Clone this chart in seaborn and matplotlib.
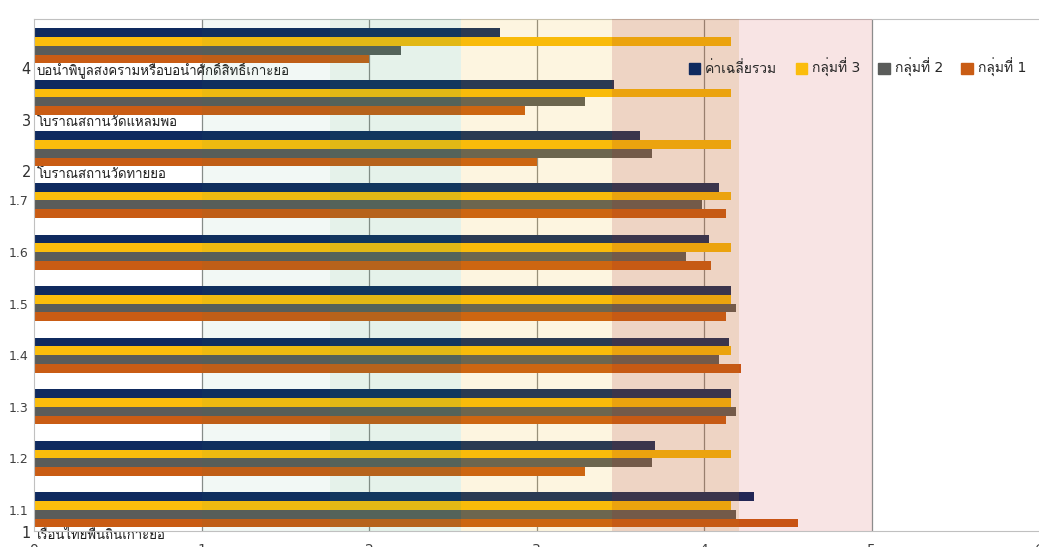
import matplotlib
matplotlib.use("Agg")
import pandas as pd
import matplotlib.pyplot as plt
import seaborn as sns
from matplotlib import font_manager
from matplotlib.ft2font import FT2Font
from matplotlib.patches import Patch
from matplotlib.transforms import blended_transform_factory

# data (top group first)
groups = ["4", "3", "2", "1.7", "1.6", "1.5", "1.4", "1.3", "1.2", "1.1"]
series = ["ค่าเฉลี่ยรวม", "กลุ่มที่ 3", "กลุ่มที่ 2", "กลุ่มที่ 1"]
overall = [2.78, 3.46, 3.62, 4.09, 4.03, 4.16, 4.15, 4.16, 3.71, 4.30]
group3 = [4.16, 4.16, 4.16, 4.16, 4.16, 4.16, 4.16, 4.16, 4.16, 4.16]
group2 = [2.19, 3.29, 3.69, 3.99, 3.89, 4.19, 4.09, 4.19, 3.69, 4.19]
group1 = [2.00, 2.93, 3.00, 4.13, 4.04, 4.13, 4.22, 4.13, 3.29, 4.56]

# heading rows: number, name, group they sit under
heading_nums = ["4", "3", "2", "1"]
heading_names = ["บ่อน้ำพิบูลสงครามหรือบ่อน้ำศักดิ์สิทธิ์เกาะยอ",
                 "โบราณสถานวัดแหลมพ้อ",
                 "โบราณสถานวัดท้ายยอ",
                 "เรือนไทยพื้นถิ่นเกาะยอ"]
heading_after = ["4", "3", "2", "1.1"]

x_ticks = [0, 1, 2, 3, 4, 5, 6]

COLORS = ["#0f2a5f", "#fbbd0c", "#5a5c5a", "#c95c14"]


def _thai_font():
    """First installed font that has Thai glyphs."""
    for f in font_manager.fontManager.ttflist:
        try:
            if ord("ก") in FT2Font(f.fname).get_charmap():
                return f.name
        except Exception:
            pass
    return "DejaVu Sans"


sns.set_style("white")
thai = _thai_font()
plt.rcParams["font.family"] = ["DejaVu Sans", thai]

df = pd.DataFrame({
    "group": groups * 4,
    "series": sum([[s] * len(groups) for s in series], []),
    "value": overall + group3 + group2 + group1,
})

fig = plt.figure(figsize=(10.39, 5.47), dpi=100)
ax = fig.add_axes([34 / 1039, 16 / 547, 1005 / 1039, 512 / 547])

sns.barplot(data=df, y="group", x="value", hue="series", order=groups,
            hue_order=series, palette=COLORS, orient="h", width=0.68,
            saturation=1, errorbar=None, legend=False, ax=ax, zorder=2,
            linewidth=0)

# tinted bands laid over the bars
bands = [(1.0, 1.77, "#2e8b57", 0.06), (1.77, 2.55, "#2e9b5a", 0.12),
         (2.55, 3.45, "#f0b400", 0.12), (3.45, 4.21, "#bf5717", 0.25),
         (4.21, 5.0, "#c50d0d", 0.11)]
for lo, hi, c, a in bands:
    ax.axvspan(lo, hi, color=c, alpha=a, lw=0, zorder=3)

for xv in x_ticks[1:6]:
    ax.axvline(xv, color="#8c8c8c", lw=0.9, zorder=1)

ax.set_xlim(0, 5.99)
ax.set_ylim(len(groups) - 1 + 0.41, -0.52)
ax.set_xticks(x_ticks)
ax.set_xticklabels([str(v) for v in x_ticks])
ax.set_xlabel("")
ax.set_ylabel("")

sub = [g for g in groups if g not in heading_nums]
ax.set_yticks([groups.index(g) for g in sub])
ax.set_yticklabels(sub)
ax.tick_params(axis="y", length=0, pad=4, labelsize=9, labelcolor="#404040")
ax.tick_params(axis="x", length=0, pad=9, labelsize=10, labelcolor="#404040")

for side in ["left", "top", "bottom"]:
    ax.spines[side].set_color("#c0c0c0")
ax.spines["right"].set_visible(False)

# heading numbers outside, names inside the axes
trans = blended_transform_factory(ax.transAxes, ax.transData)
for num, name, after in zip(heading_nums, heading_names, heading_after):
    y = groups.index(after) + 0.46
    ax.text(-0.003, y, num, transform=trans, ha="right", va="center",
            fontsize=10.5, color="#303030", clip_on=False)
    ax.text(0.015, y, name, ha="left", va="center", fontsize=9.5,
            color="#202020", zorder=1.5, clip_on=False)

handles = [Patch(color=c) for c in COLORS]
ax.legend(handles, series, ncol=4, loc="center right",
          bbox_to_anchor=(1.0, 0.905), frameon=False, fontsize=10,
          handlelength=0.8, handleheight=0.8, handletextpad=0.4,
          columnspacing=1.3)

fig.savefig("out.png", dpi=100)
plt.close(fig)
